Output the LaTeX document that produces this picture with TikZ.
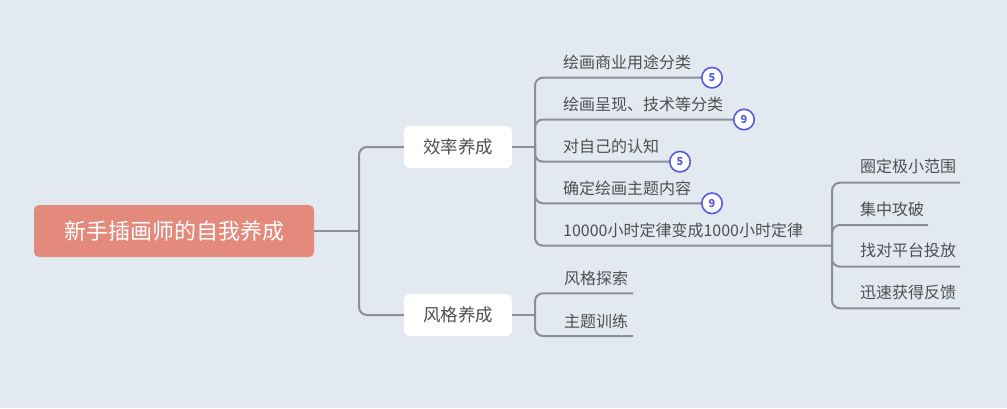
\documentclass[tikz,border=0pt]{standalone}
\usepackage{fontspec}
\setmainfont{Noto Sans CJK SC}
\usepackage{tikz}
\usetikzlibrary{positioning}
\definecolor{bgcol}{HTML}{E3E9F1}
\definecolor{rootcol}{HTML}{E48A7C}
\definecolor{linecol}{HTML}{8A8E97}
\definecolor{txtcol}{HTML}{4F4F4F}
\definecolor{badgecol}{HTML}{5A5AD6}

\begin{document}
\begin{tikzpicture}[x=1pt, y=-1pt,
    conn/.style={linecol, line width=2pt, rounded corners=8pt},
    rootbox/.style={fill=rootcol, rounded corners=5pt, text=white,
      minimum width=280pt, minimum height=52pt, font=\fontsize{22}{25}\selectfont},
    midbox/.style={fill=white, rounded corners=6pt, text=txtcol,
      minimum width=108pt, minimum height=42pt, font=\fontsize{17.5}{20}\selectfont},
    leaf/.style={anchor=west, text=txtcol, inner sep=0pt, font=\fontsize{16}{19}\selectfont},
    badge/.style={circle, draw=badgecol, fill=white, line width=1.6pt, text=badgecol,
      inner sep=0pt, minimum size=20.5pt, font=\fontsize{11}{13}\selectfont\bfseries}]
    % background
    \fill[bgcol] (0,0) rectangle (1007,408);

    % root and main branches
    \node[rootbox] (root) at (174,231) {新手插画师的自我养成};
    \node[midbox] (eff) at (458,147) {效率养成};
    \node[midbox] (sty) at (458,315) {风格养成};

    % junctions
    \coordinate (rj) at (359,231);
    \coordinate (ej) at (535,147);
    \coordinate (sj) at (535,315);
    \coordinate (kj) at (832,245.7);

    \draw[conn] (root.east) -- (rj);
    \draw[conn] (rj) |- (eff.west);
    \draw[conn] (rj) |- (sty.west);

    % 效率养成 leaves
    \node[leaf] (e1) at (563,62.5) {绘画商业用途分类};
    \node[leaf] (e2) at (563,104.5) {绘画呈现、技术等分类};
    \node[leaf] (e3) at (563,146) {对自己的认知};
    \node[leaf] (e4) at (563,188) {确定绘画主题内容};
    \node[leaf] (e5) at (563,230) {10000小时定律变成1000小时定律};

    \node[badge] (b1) at (712,77.7) {5};
    \node[badge] (b2) at (744,119.5) {9};
    \node[badge] (b3) at (680,161.7) {5};
    \node[badge] (b4) at (712,203.3) {9};

    \draw[conn] (eff.east) -- (ej);
    \draw[conn] (ej) |- (b1.west);
    \draw[conn] (ej) |- (b2.west);
    \draw[conn] (ej) |- (b3.west);
    \draw[conn] (ej) |- (b4.west);
    \draw[conn] (ej) |- (kj);

    % 10000 sub leaves
    \node[leaf] (k1) at (860,166.7) {圈定极小范围};
    \node[leaf] (k2) at (860,209) {集中攻破};
    \node[leaf] (k3) at (860,250.5) {找对平台投放};
    \node[leaf] (k4) at (860,292.7) {迅速获得反馈};
    \coordinate (k1e) at (960,182.7);
    \coordinate (k2e) at (928,225);
    \coordinate (k3e) at (960,266.7);
    \coordinate (k4e) at (960,308.3);
    \foreach \k in {k1e,k2e,k3e,k4e}
      \draw[conn] (kj) |- (\k);

    % 风格养成 leaves
    \node[leaf] (s1) at (564,278.3) {风格探索};
    \node[leaf] (s2) at (564,321.7) {主题训练};
    \coordinate (s1e) at (633,293.3);
    \coordinate (s2e) at (633,336);
    \draw[conn] (sty.east) -- (sj);
    \draw[conn] (sj) |- (s1e);
    \draw[conn] (sj) |- (s2e);
\end{tikzpicture}
\end{document}
